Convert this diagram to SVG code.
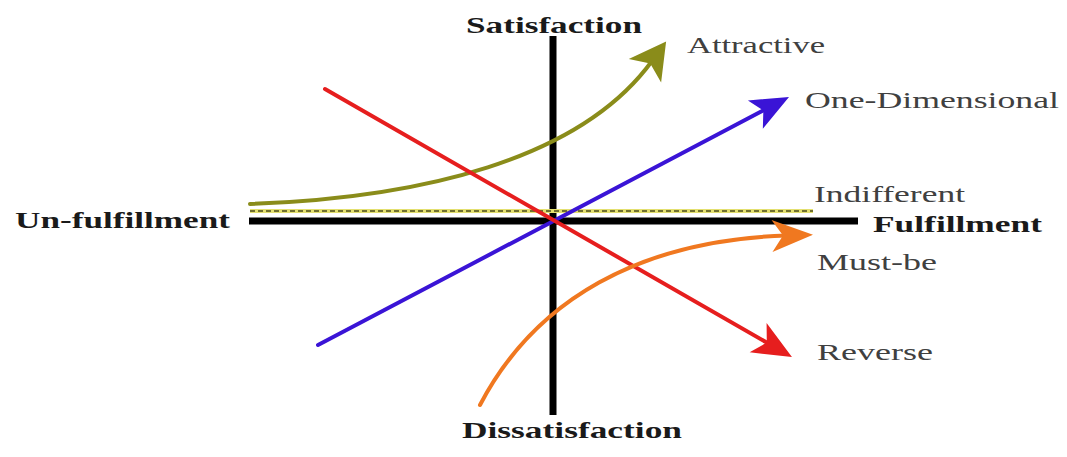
<svg xmlns="http://www.w3.org/2000/svg" width="1067" height="457" viewBox="0 0 1067 457">
  <style>
    .axis { stroke: #000; stroke-width: 7; fill: none; }
    .curve { fill: none; stroke-width: 4; stroke-linecap: round; }
    .axlbl { font-family: "Liberation Serif", "Times New Roman", serif; font-weight: bold; font-size: 23px; fill: #1a1a1a; }
    .lbl { font-family: "Liberation Serif", "Times New Roman", serif; font-size: 23px; fill: #404040; }
  </style>
  <defs>
    <marker id="mGreen" viewBox="-42 -24 44 48" markerWidth="44" markerHeight="48" refX="-24" refY="0" orient="auto" markerUnits="userSpaceOnUse">
      <path d="M0,0 L-36,-20 L-27,0 L-36,20 Z" fill="#8a8c1a"/>
    </marker>
    <marker id="mBlue" viewBox="-42 -20 44 40" markerWidth="44" markerHeight="40" refX="-26" refY="0" orient="auto" markerUnits="userSpaceOnUse">
      <path d="M0,0 L-38,-16 L-29,0 L-38,16 Z" fill="#3a14d6"/>
    </marker>
    <marker id="mRed" viewBox="-42 -20 44 40" markerWidth="44" markerHeight="40" refX="-26" refY="0" orient="auto" markerUnits="userSpaceOnUse">
      <path d="M0,0 L-39,-17 L-29,0 L-39,17 Z" fill="#e61e1e"/>
    </marker>
    <marker id="mOrange" viewBox="-44 -20 46 40" markerWidth="46" markerHeight="40" refX="-26" refY="0" orient="auto" markerUnits="userSpaceOnUse">
      <path d="M0,0 L-41,-16 L-30,0 L-41,16 Z" fill="#f07820"/>
    </marker>
  </defs>
  <rect width="1067" height="457" fill="#ffffff"/>

  <g id="axes">
    <line class="axis" x1="553" y1="36" x2="553" y2="415"/>
    <line class="axis" x1="249" y1="221" x2="858" y2="221"/>
  </g>

  <g id="connectors">
    <g id="indifferent-line">
      <line x1="250" y1="211" x2="813" y2="211" stroke="#e4e070" stroke-width="4"/>
      <line x1="250" y1="211" x2="813" y2="211" stroke="#707030" stroke-width="2" stroke-dasharray="5 3"/>
    </g>
    <path id="attractive-curve" class="curve" stroke="#8a8c1a" d="M250,204 C420,198 580,160 652,61" marker-end="url(#mGreen)"/>
    <path id="one-dimensional-line" class="curve" stroke="#3a14d6" d="M318,345 L766,109" marker-end="url(#mBlue)"/>
    <path id="reverse-line" class="curve" stroke="#e61e1e" d="M325,89 L769.4,344.1" marker-end="url(#mRed)"/>
    <path id="must-be-curve" class="curve" stroke="#f07820" d="M480,405 C535,300 640,240 787,235.5" marker-end="url(#mOrange)"/>
  </g>

  <g id="satisfaction"><text class="axlbl" x="466" y="33" textLength="176" lengthAdjust="spacingAndGlyphs">Satisfaction</text></g>
  <g id="dissatisfaction"><text class="axlbl" x="462" y="438" textLength="220" lengthAdjust="spacingAndGlyphs">Dissatisfaction</text></g>
  <g id="un-fulfillment"><text class="axlbl" x="15" y="228" textLength="215" lengthAdjust="spacingAndGlyphs">Un-fulfillment</text></g>
  <g id="fulfillment"><text class="axlbl" x="873" y="232" textLength="169" lengthAdjust="spacingAndGlyphs">Fulfillment</text></g>
  <g id="attractive"><text class="lbl" x="687" y="53" textLength="138" lengthAdjust="spacingAndGlyphs">Attractive</text></g>
  <g id="one-dimensional"><text class="lbl" x="805" y="108" textLength="254" lengthAdjust="spacingAndGlyphs">One-Dimensional</text></g>
  <g id="indifferent"><text class="lbl" x="814" y="202" textLength="151" lengthAdjust="spacingAndGlyphs">Indifferent</text></g>
  <g id="must-be"><text class="lbl" x="817" y="270" textLength="120" lengthAdjust="spacingAndGlyphs">Must-be</text></g>
  <g id="reverse"><text class="lbl" x="817" y="360" textLength="116" lengthAdjust="spacingAndGlyphs">Reverse</text></g>
</svg>
